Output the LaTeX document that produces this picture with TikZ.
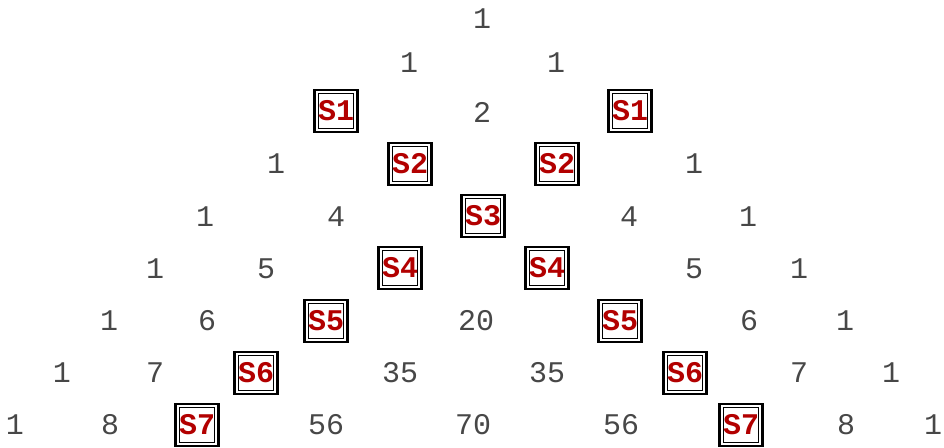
\documentclass[tikz,border=0pt]{standalone}
\usepackage{fontspec}
\newfontfamily\numfont{Liberation Mono}
\definecolor{sred}{RGB}{178,0,0}
\tikzset{
  num/.style={font=\numfont\fontsize{22.5pt}{24pt}\selectfont, text=black!72, inner sep=0pt, anchor=center},
  sbox/.style={font=\numfont\bfseries\fontsize{22.5pt}{24pt}\selectfont, text=sred, draw=black,
    line width=2.1pt, minimum width=32.25pt, minimum height=31.5pt, inner sep=0pt, fill=white,
    path picture={\draw[line width=0.75pt] ([shift={(2.9pt,2.9pt)}]path picture bounding box.south west) rectangle ([shift={(-2.9pt,-2.9pt)}]path picture bounding box.north east);}}
}
\begin{document}
\begin{tikzpicture}[x=0.75pt,y=-0.75pt]
\useasboundingbox (0,0) rectangle (944,448);
% row 0
\node[num] (r0a) at (482,19) {1};
% row 1
\node[num] (r1a) at (409,63) {1};
\node[num] (r1b) at (556,63) {1};
% row 2
\node[sbox] (r2a) at (336,111) {S1};
\node[num] (r2b) at (482,112) {2};
\node[sbox] (r2c) at (630,111) {S1};
% row 3
\node[num] (r3a) at (276,164) {1};
\node[sbox] (r3b) at (410,164) {S2};
\node[sbox] (r3c) at (557,164) {S2};
\node[num] (r3d) at (694,164) {1};
% row 4
\node[num] (r4a) at (205,217) {1};
\node[num] (r4b) at (336,217) {4};
\node[sbox] (r4c) at (483,216) {S3};
\node[num] (r4d) at (629,217) {4};
\node[num] (r4e) at (748,217) {1};
% row 5
\node[num] (r5a) at (155,269) {1};
\node[num] (r5b) at (266,269) {5};
\node[sbox] (r5c) at (400,268) {S4};
\node[sbox] (r5d) at (547,268) {S4};
\node[num] (r5e) at (694,269) {5};
\node[num] (r5f) at (799,269) {1};
% row 6
\node[num] (r6a) at (109,321) {1};
\node[num] (r6b) at (207,321) {6};
\node[sbox] (r6c) at (326,321) {S5};
\node[num] (r6d) at (476,321) {20};
\node[sbox] (r6e) at (620,321) {S5};
\node[num] (r6f) at (749,321) {6};
\node[num] (r6g) at (845,321) {1};
% row 7
\node[num] (r7a) at (62,373) {1};
\node[num] (r7b) at (155,373) {7};
\node[sbox] (r7c) at (256,373) {S6};
\node[num] (r7d) at (400,373) {35};
\node[num] (r7e) at (547,373) {35};
\node[sbox] (r7f) at (685,373) {S6};
\node[num] (r7g) at (799,373) {7};
\node[num] (r7h) at (891,373) {1};
% row 8
\node[num] (r8a) at (15,425) {1};
\node[num] (r8b) at (110,425) {8};
\node[sbox] (r8c) at (197,425) {S7};
\node[num] (r8d) at (326,425) {56};
\node[num] (r8e) at (473,425) {70};
\node[num] (r8f) at (621,425) {56};
\node[sbox] (r8g) at (741,425) {S7};
\node[num] (r8h) at (846,425) {8};
\node[num] (r8i) at (933,425) {1};
\end{tikzpicture}
\end{document}
